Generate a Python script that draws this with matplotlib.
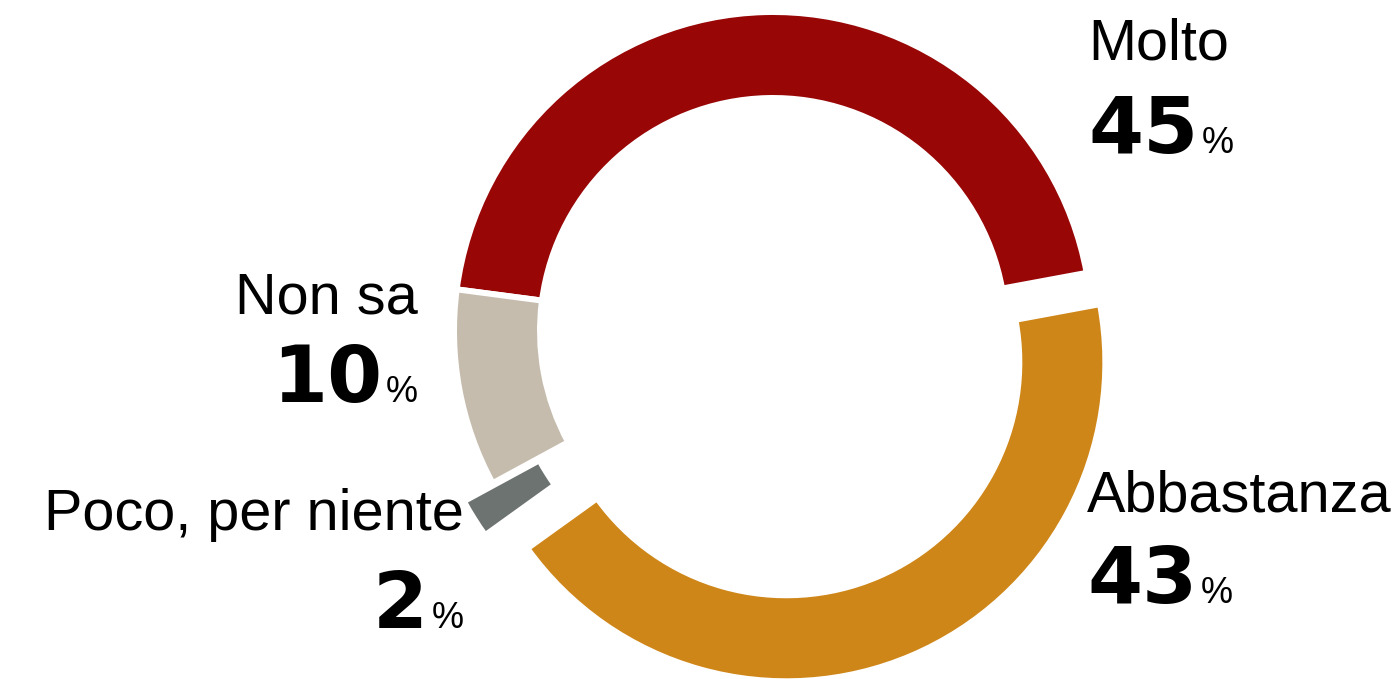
import matplotlib
matplotlib.use("Agg")
import matplotlib.pyplot as plt

# ---- data ----
categories = ["Molto", "Abbastanza", "Poco, per niente", "Non sa"]
values = [45, 43, 2, 10]
colors = ["#980606", "#CF8618", "#6D7370", "#C5BCAD"]
explode_px = [0, 34, 34, 0]

W, H = 1395, 679
fig = plt.figure(figsize=(W / 100, H / 100), dpi=100)
ax = fig.add_axes([0, 0, 1, 1])

cx, cy = 773, H - 331
R = 319
ring = 86

ax.pie(values, colors=colors, startangle=172.5, counterclock=False,
       radius=R, center=(cx, cy), explode=explode_px,
       wedgeprops=dict(width=ring, edgecolor="white", linewidth=4.3))
ax.set_xlim(0, W)
ax.set_ylim(0, H)
ax.set_aspect("equal")
ax.axis("off")

label_font = dict(family="Liberation Sans", fontsize=41.5, color="black")
num_font = dict(family="DejaVu Sans", fontweight="bold", fontsize=57, color="black")
pct_font = dict(family="Liberation Sans", fontsize=26, color="black")

renderer = fig.canvas.get_renderer()


def width_px(t):
    bb = t.get_window_extent(renderer=renderer)
    return bb.width


def label_left(name, val, x, y_lab, y_num):
    ax.text(x, H - y_lab, name, ha="left", va="baseline", **label_font)
    t = ax.text(x, H - y_num, f"{val}", ha="left", va="baseline", **num_font)
    w = width_px(t)
    ax.text(x + w + 4, H - y_num, "%", ha="left", va="baseline", **pct_font)


def label_right(name, val, x, y_lab, y_num):
    ax.text(x, H - y_lab, name, ha="right", va="baseline", **label_font)
    p = ax.text(x, H - y_num, "%", ha="right", va="baseline", **pct_font)
    w = width_px(p)
    ax.text(x - w - 4, H - y_num, f"{val}", ha="right", va="baseline", **num_font)


label_left(categories[0], values[0], 1088, 60, 153)
label_left(categories[1], values[1], 1087, 512, 603)
label_right(categories[2], values[2], 464, 530, 628)
label_right(categories[3], values[3], 418, 313, 402)

fig.savefig("out.png", dpi=100)
